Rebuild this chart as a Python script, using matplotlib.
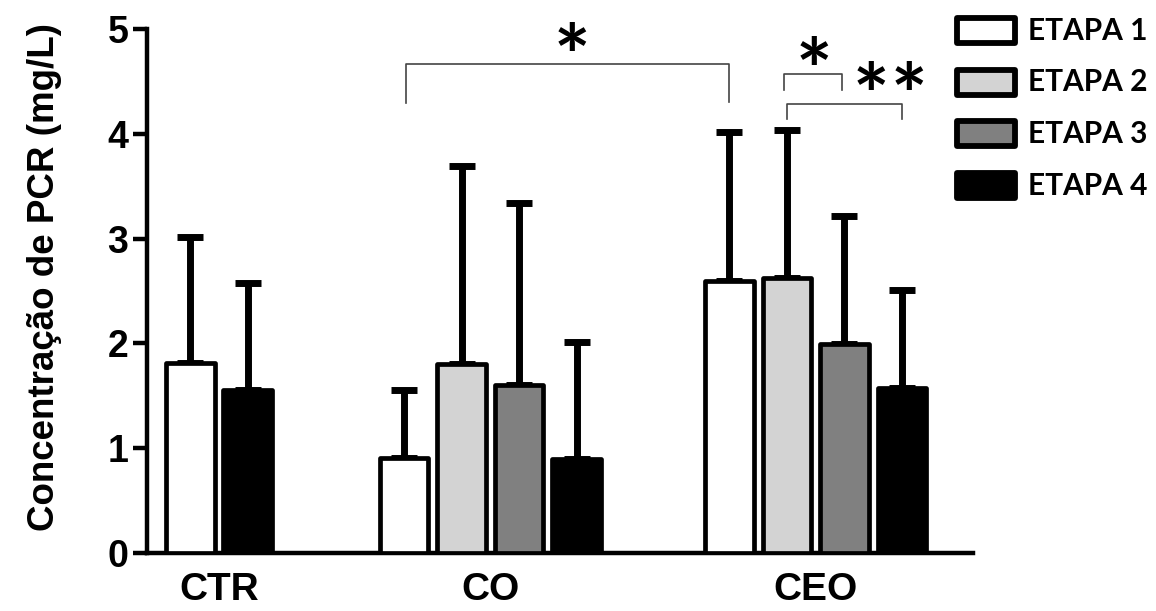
import matplotlib
matplotlib.use("Agg")
import matplotlib.pyplot as plt
import numpy as np
from matplotlib.patches import Rectangle

# PCR concentration (mg/L): means and upper SD per group and stage
groups = ["CTR", "CO", "CEO"]
stages = ["ETAPA 1", "ETAPA 2", "ETAPA 3", "ETAPA 4"]
stage_colors = ["white", "#d3d3d3", "#808080", "black"]

ctr_stages = [0, 3]
ctr_mean = [1.81, 1.56]
ctr_sd = [1.21, 1.02]

co_mean = [0.91, 1.80, 1.60, 0.90]
co_sd = [0.65, 1.89, 1.74, 1.11]

ceo_mean = [2.60, 2.62, 1.99, 1.57]
ceo_sd = [1.42, 1.42, 1.23, 0.94]

plt.rcParams['font.family'] = ['Liberation Sans', 'DejaVu Sans']
plt.rcParams['font.weight'] = 'bold'

fig = plt.figure(figsize=(11.56, 6.11), dpi=100)
ax = fig.add_axes([147 / 1156, 1 - 553 / 611, 826 / 1156, 524 / 611])

width = 0.85
lw = 3.4
starts = [0.75, 4.47, 10.13]

def draw_group(start, idx, means, sds):
    xs = start + np.arange(len(means))
    for x, i, m in zip(xs, idx, means):
        ax.bar(x, m, width, color=stage_colors[i], edgecolor='black',
               linewidth=lw, joinstyle='round', zorder=3)
    ax.errorbar(xs, means, yerr=[np.zeros(len(sds)), sds], fmt='none',
                ecolor='black', elinewidth=5, capsize=9.4, capthick=5, zorder=2)
    return xs

x_ctr = draw_group(starts[0], ctr_stages, ctr_mean, ctr_sd)
x_co = draw_group(starts[1], [0, 1, 2, 3], co_mean, co_sd)
x_ceo = draw_group(starts[2], [0, 1, 2, 3], ceo_mean, ceo_sd)

ax.set_xlim(0, 826 / 57.5)
ax.set_ylim(0, 5)
ax.set_yticks([0, 1, 2, 3, 4, 5])
ax.set_xticks([x_ctr.mean(), x_co.mean(), x_ceo.mean()])
ax.set_xticklabels(groups)
ax.tick_params(axis='y', labelsize=27, width=3.2, length=10, pad=3.5)
ax.tick_params(axis='x', labelsize=28, length=0, pad=14)
for lab in ax.get_xticklabels() + ax.get_yticklabels():
    lab.set_fontweight('bold')
for s in ['top', 'right']:
    ax.spines[s].set_visible(False)
for s in ['left', 'bottom']:
    ax.spines[s].set_linewidth(3.2)
ax.set_ylabel("Concentração de PCR (mg/L)", fontsize=26.5, fontweight='bold')
ax.yaxis.set_label_coords(-0.103, 0.526)

# significance brackets
def bracket(x0, x1, y_top, y_bot, y_bot2=None):
    if y_bot2 is None:
        y_bot2 = y_bot
    ax.plot([x0, x0, x1, x1], [y_bot, y_top, y_top, y_bot2], color='#444444',
            lw=1.2, clip_on=False, zorder=4)

bracket(x_co[0] + 0.03, x_ceo[0], 4.67, 4.29, 4.30)
bracket(x_ceo[1] - 0.05, x_ceo[2] - 0.05, 4.57, 4.42)
bracket(x_ceo[1], x_ceo[3], 4.28, 4.14)

star_kw = dict(fontsize=62, fontweight='bold', ha='center', va='center',
               family=['Lato', 'DejaVu Sans'], clip_on=False)
ax.text(7.39, 4.68, "*", **star_kw)
ax.text(11.6, 4.55, "*", **star_kw)
ax.text(12.59, 4.31, "*", **star_kw)
ax.text(13.25, 4.31, "*", **star_kw)

# legend drawn as boxes with labels
for i, (name, c) in enumerate(zip(stages, stage_colors)):
    y_top = 18 + i * 51.7
    fig.patches.append(Rectangle((957 / 1156, 1 - (y_top + 25) / 611), 58 / 1156, 25 / 611,
                                 transform=fig.transFigure, facecolor=c, edgecolor='black',
                                 linewidth=4.2, joinstyle='round'))
    fig.text(1028 / 1156, 1 - (y_top + 12.5) / 611, name, fontsize=21.5, fontweight='bold',
             family=['Lato', 'DejaVu Sans'], va='center', ha='left')

fig.savefig("out.png", dpi=100)
